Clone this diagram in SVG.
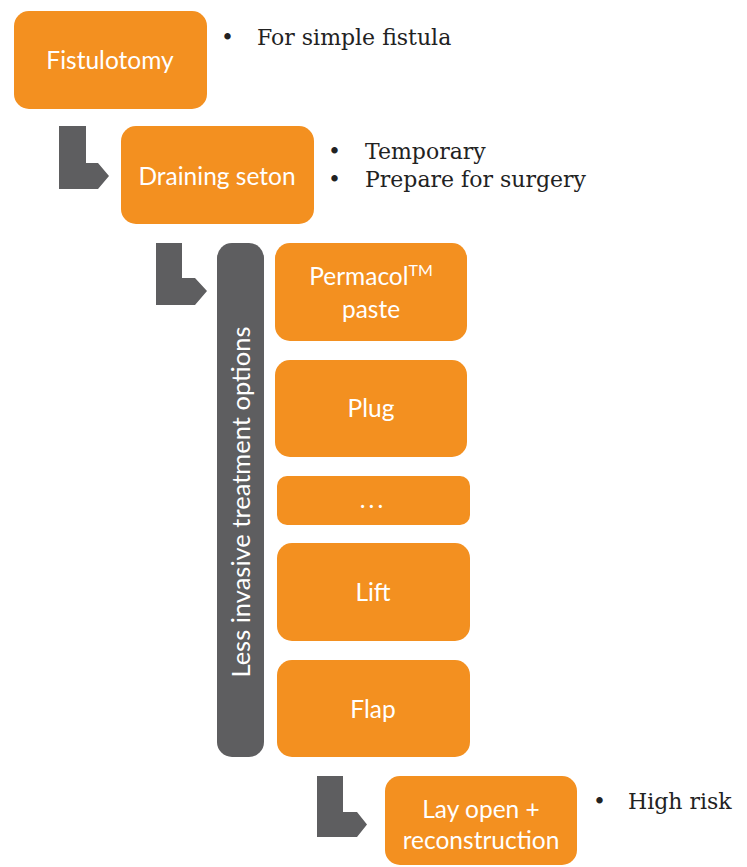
<svg xmlns="http://www.w3.org/2000/svg" width="747" height="867" viewBox="0 0 747 867">
<style>
.box{fill:#F39020;}
.lbl{font-family:Lato,"Open Sans",sans-serif;font-size:24.5px;fill:#ffffff;text-anchor:middle;}
.note{font-family:"DejaVu Serif","Liberation Serif",serif;font-size:22px;fill:#222222;}
.arr{fill:#5E5E60;}
</style>
<rect width="747" height="867" fill="#ffffff"/>
<g id="connectors">
<path class="arr" d="M59,126 H86 V163 H98 L109,176 L98,189 H59 Z"/>
<path class="arr" d="M156,243 H182 V278 H195 L207,291 L195,305 H156 Z"/>
<path class="arr" d="M317,776 H343 V812 H357 L367,824.5 L357,837 H317 Z"/>
</g>
<g id="fistulotomy">
<rect class="box" x="14" y="11" width="193" height="98" rx="15"/>
<text class="lbl" x="110" y="69">Fistulotomy</text>
</g>
<g id="note-fistulotomy">
<text class="note" x="221" y="45">•</text>
<text class="note" x="257" y="45">For simple fistula</text>
</g>
<g id="draining-seton">
<rect class="box" x="121" y="126" width="193" height="98" rx="15"/>
<text class="lbl" x="217" y="185">Draining seton</text>
</g>
<g id="note-seton">
<text class="note" x="328" y="159">•</text>
<text class="note" x="365" y="159">Temporary</text>
<text class="note" x="328" y="187">•</text>
<text class="note" x="365" y="187">Prepare for surgery</text>
</g>
<g id="less-invasive">
<rect x="217" y="243" width="47" height="514" rx="15" fill="#5E5E60"/>
<text class="lbl" transform="translate(250,502) rotate(-90)" style="font-size:25.5px">Less invasive treatment options</text>
</g>
<g id="permacol">
<rect class="box" x="275" y="243" width="192" height="98" rx="15"/>
<text class="lbl" x="371" y="285">Permacol<tspan font-size="16" dy="-9">TM</tspan></text>
<text class="lbl" x="371" y="318">paste</text>
</g>
<g id="plug">
<rect class="box" x="275" y="360" width="192" height="97" rx="15"/>
<text class="lbl" x="371" y="417">Plug</text>
</g>
<g id="more">
<rect class="box" x="277" y="476" width="193" height="49" rx="10"/>
<text class="lbl" x="373" y="508" letter-spacing="3">...</text>
</g>
<g id="lift">
<rect class="box" x="277" y="543" width="193" height="98" rx="15"/>
<text class="lbl" x="373" y="601">Lift</text>
</g>
<g id="flap">
<rect class="box" x="277" y="660" width="193" height="97" rx="15"/>
<text class="lbl" x="373" y="718">Flap</text>
</g>
<g id="lay-open">
<rect class="box" x="385" y="776" width="192" height="89" rx="15"/>
<text class="lbl" x="481" y="818">Lay open +</text>
<text class="lbl" x="481" y="849">reconstruction</text>
</g>
<g id="note-lay-open">
<text class="note" x="593" y="809">•</text>
<text class="note" x="628" y="809">High risk</text>
</g>
</svg>
